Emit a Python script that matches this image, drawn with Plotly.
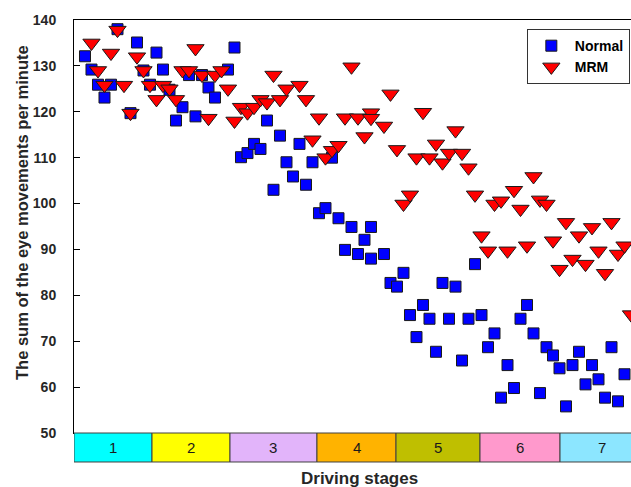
import plotly.graph_objects as go

# ---- data (sample index along the drive, value per minute) ----
normal_idx = [0, 1, 2, 3, 4, 5, 7, 8, 9, 10, 11, 12, 13, 14, 15, 16, 17, 18, 19, 20,
              22, 23, 24, 25, 26, 27, 28, 29, 30, 31, 32, 33, 34, 35, 36, 37, 38, 39,
              40, 41, 42, 43, 44, 44, 46, 47, 48, 49, 50, 51, 52, 53, 54, 55, 56, 57,
              58, 59, 60, 61, 62, 63, 64, 65, 66, 67, 68, 69, 70, 71, 72, 73, 74, 75,
              76, 77, 78, 79, 80, 81, 82, 83]
normal_val = [132.1, 129.2, 125.9, 123.1, 125.9, 138.0, 119.7, 135.1, 129.0, 125.9,
              132.9, 129.2, 124.8, 118.1, 121.0, 128.0, 119.0, 128.0, 125.3, 123.1,
              129.2, 134.0, 110.1, 111.0, 113.0, 111.9, 118.1, 103.0, 114.8, 109.0,
              105.9, 113.0, 104.1, 109.0, 97.9, 99.0, 110.0, 96.8,
              89.9, 94.9, 89.0, 92.1, 94.9, 88.0, 89.0, 82.7, 81.9, 84.9, 75.7, 70.9,
              77.9, 74.9, 67.7, 82.7, 74.9, 81.9, 65.8, 74.9, 86.8, 75.7, 68.7, 71.7,
              57.7, 64.8, 59.8, 74.9, 77.9, 71.7, 58.7, 68.7, 66.9, 64.1, 55.8, 64.8,
              67.7, 60.6, 64.8, 61.7, 57.7, 68.7, 56.9, 62.8]

mrm_idx = [1, 2, 3, 4, 5, 6, 7, 8, 9, 10, 11, 12, 13, 14, 15, 16, 17, 18, 19, 20,
           21, 22, 23, 24, 25, 26, 27, 28, 29, 30, 31, 33, 34, 35, 36, 37, 38, 39,
           40, 41, 42, 43, 44, 44, 46, 47, 48, 49, 50, 51, 52, 53, 54, 55, 56, 57,
           58, 59, 60, 61, 62, 63, 64, 65, 66, 67, 68, 69, 70, 71, 72, 73, 74, 75,
           76, 77, 78, 79, 80, 81, 82, 83, 84]
mrm_val = [135.0, 129.0, 125.8, 132.8, 137.8, 125.8, 119.7, 132.0, 129.0, 125.8,
           122.7, 125.8, 125.0, 122.7, 129.0, 129.0, 133.8, 128.0, 118.6, 128.0,
           129.0, 125.0, 118.0, 121.0, 119.8, 121.0, 122.7, 122.0, 128.0, 122.7,
           125.0, 125.8, 122.7, 113.9, 118.7, 110.0, 111.6, 112.7,
           118.7, 129.8, 118.7, 114.6, 119.8, 118.6, 116.9, 123.9, 111.8, 99.9,
           101.9, 110.0, 119.9, 110.0, 113.0, 108.9, 111.0, 115.9, 111.0, 107.8,
           101.9, 93.0, 89.7, 99.9, 100.6, 89.7, 102.9, 98.8, 90.8, 105.9, 100.8,
           99.9, 91.9, 85.7, 95.9, 87.9, 93.0, 86.8, 94.8, 89.7, 84.8, 95.9, 89.0,
           90.8, 75.8]

stage_labels = ["1", "2", "3", "4", "5", "6", "7"]
stage_edges = [-1.69, 10.31, 22.31, 35.69, 47.85, 60.77, 73.08, 86.0]
stage_colors = ["#00FFFF", "#FFFF00", "#E2B4FA", "#FFB300", "#BFBF00", "#FF99CC", "#8CE6FF"]

x_range = [-1.69, 84.0]
y_ticks = [50, 60, 70, 80, 90, 100, 110, 120, 130, 140]

FONT = "Liberation Sans, Arial, sans-serif"
TXT = "#262626"

fig = go.Figure()
fig.add_trace(go.Scatter(
    x=normal_idx, y=normal_val, mode="markers", name="Normal",
    marker=dict(symbol="square", size=11, color="#0000FF",
                line=dict(color="#1a1a1a", width=1)),
))
fig.add_trace(go.Scatter(
    x=mrm_idx, y=mrm_val, mode="markers", name="MRM",
    marker=dict(symbol="triangle-down", size=15, color="#FF0000",
                line=dict(color="#1a1a1a", width=1)),
))

band_h = 0.0702
shapes = []
annotations = []
for lab, c, x0, x1 in zip(stage_labels, stage_colors, stage_edges[:-1], stage_edges[1:]):
    shapes.append(dict(type="rect", xref="x", yref="paper", x0=x0, x1=x1,
                       y0=-band_h, y1=0, fillcolor=c,
                       line=dict(color="#404040", width=1), layer="above"))
    annotations.append(dict(x=(x0 + x1) / 2, y=-band_h / 2, xref="x", yref="paper",
                            xanchor="center", yanchor="middle",
                            text=lab, showarrow=False,
                            font=dict(family=FONT, size=15, color="#1a1a1a")))

annotations.append(dict(x=0.512, y=-0.109, xref="paper", yref="paper",
                        xanchor="center", yanchor="middle",
                        text="Driving stages", showarrow=False,
                        font=dict(family=FONT, size=17, color=TXT, weight="bold")))
annotations.append(dict(x=-0.0934, y=0.535, xref="paper", yref="paper",
                        xanchor="center", yanchor="middle",
                        text="The sum of the eye movements per minute", showarrow=False,
                        textangle=-90,
                        font=dict(family=FONT, size=16.5, color=TXT, weight="bold")))

fig.update_layout(
    width=631, height=487,
    margin=dict(l=74, r=0, t=20, b=54),
    paper_bgcolor="white", plot_bgcolor="white",
    shapes=shapes, annotations=annotations,
    showlegend=True,
    legend=dict(x=0.813, y=0.978, xanchor="left", yanchor="top",
                bgcolor="white", bordercolor="#333333", borderwidth=1,
                font=dict(family=FONT, size=14, color="black", weight="bold"),
                tracegroupgap=0, itemwidth=37),
    xaxis=dict(range=x_range, showgrid=False, zeroline=False,
               showticklabels=False, ticks="",
               showline=True, linecolor="black", linewidth=1, mirror=True),
    yaxis=dict(range=[50, 140], tickvals=y_ticks, showgrid=False, zeroline=False,
               ticks="inside", ticklen=6, tickcolor="black",
               ticklabelstandoff=14,
               showline=True, linecolor="black", linewidth=1,
               tickfont=dict(family=FONT, size=14, color=TXT, weight="bold")),
)

fig.write_html("out.html")
